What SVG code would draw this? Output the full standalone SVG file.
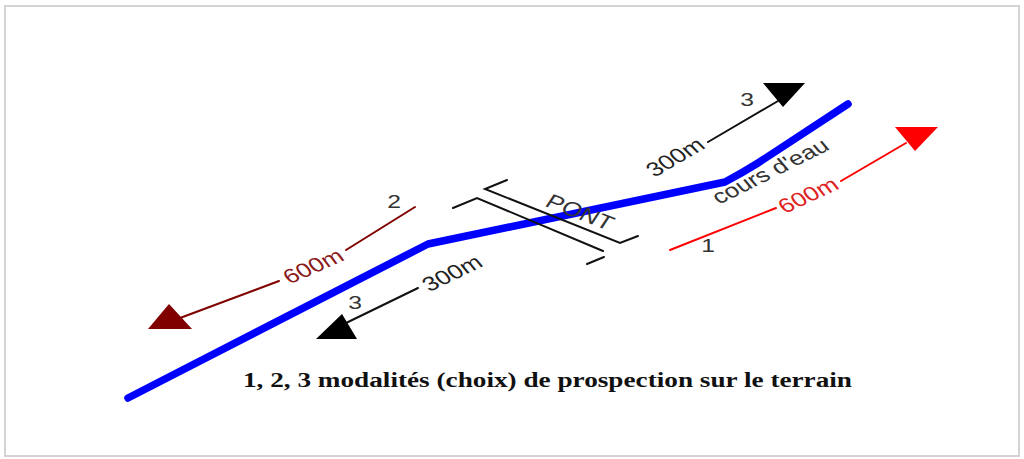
<svg xmlns="http://www.w3.org/2000/svg" width="1024" height="459" viewBox="0 0 1024 459">
<style>
.lbl{font-family:"Liberation Sans",Arial,sans-serif;font-size:20px;text-anchor:middle}
.num{font-family:"Liberation Sans",Arial,sans-serif;font-size:19px;text-anchor:middle;fill:#333}
.cap{font-family:"Liberation Serif","Times New Roman",serif;font-size:20px;font-weight:bold;fill:#111}
.ln{fill:none;stroke-width:2;stroke-linecap:round}
</style>
<rect x="0" y="0" width="1024" height="459" fill="#ffffff"/>
<rect x="5" y="6" width="1014" height="450" fill="#ffffff" stroke="#d4d4d4" stroke-width="2"/>

<g id="river">
<path d="M128,398 L428,244 L725,182 Q742,173 758,163 L848,104" fill="none" stroke="#0000ff" stroke-width="7.5" stroke-linecap="round" stroke-linejoin="round"/>
<text class="lbl" fill="#333" transform="translate(770,171) scale(1.3,1) rotate(-33)" dy="0.35em">cours d'eau</text>
</g>

<g id="pont">
<polyline class="ln" stroke="#111" points="507,180 485,189 620,243 638,236"/>
<polyline class="ln" stroke="#111" points="453,208 477,198 603,251"/>
<polyline class="ln" stroke="#111" points="604,257 587,264"/>
<text class="lbl" fill="#333" transform="translate(580,212) scale(1.3,1) rotate(27)" dy="0.35em">PONT</text>
</g>

<g id="connectors">
<g id="route1">
<polyline class="ln" stroke="#ff0000" points="670,250 776,208"/>
<polyline class="ln" stroke="#ff0000" points="841,181 906,143"/>
<polygon points="895,127 938,127 915,151" fill="#ff0000"/>
</g>
<g id="route2">
<polyline class="ln" stroke="#800000" points="415,207 346,250"/>
<polyline class="ln" stroke="#800000" points="279,281 180,318"/>
<polygon points="169,304 148,329 192,329" fill="#800000"/>
</g>
<g id="route3up">
<polyline class="ln" stroke="#111" points="708,142 778,101"/>
<polygon points="763,83 805,83 783,107" fill="#000"/>
</g>
<g id="route3down">
<polyline class="ln" stroke="#111" points="418,288 344,324"/>
<polygon points="342,314 316,339 357,339" fill="#000"/>
</g>
</g>

<g id="labels">
<text class="lbl" fill="#e02020" transform="translate(808,195) scale(1.3,1) rotate(-31)" dy="0.35em">600m</text>
<text class="lbl" fill="#8b1a1a" transform="translate(313,266) scale(1.3,1) rotate(-30)" dy="0.35em">600m</text>
<text class="lbl" fill="#222" transform="translate(675,157) scale(1.3,1) rotate(-37)" dy="0.35em">300m</text>
<text class="lbl" fill="#222" transform="translate(452,273) scale(1.3,1) rotate(-32)" dy="0.35em">300m</text>
<text class="num" transform="translate(747,99) scale(1.3,1)" dy="0.35em">3</text>
<text class="num" transform="translate(355,302) scale(1.3,1)" dy="0.35em">3</text>
<text class="num" transform="translate(394,201) scale(1.3,1)" dy="0.35em">2</text>
<text class="num" transform="translate(708,245) scale(1.3,1)" dy="0.35em">1</text>
</g>

<g id="caption">
<text class="cap" x="243" y="387" textLength="609" lengthAdjust="spacingAndGlyphs">1, 2, 3 modalités (choix) de prospection sur le terrain</text>
</g>
</svg>
